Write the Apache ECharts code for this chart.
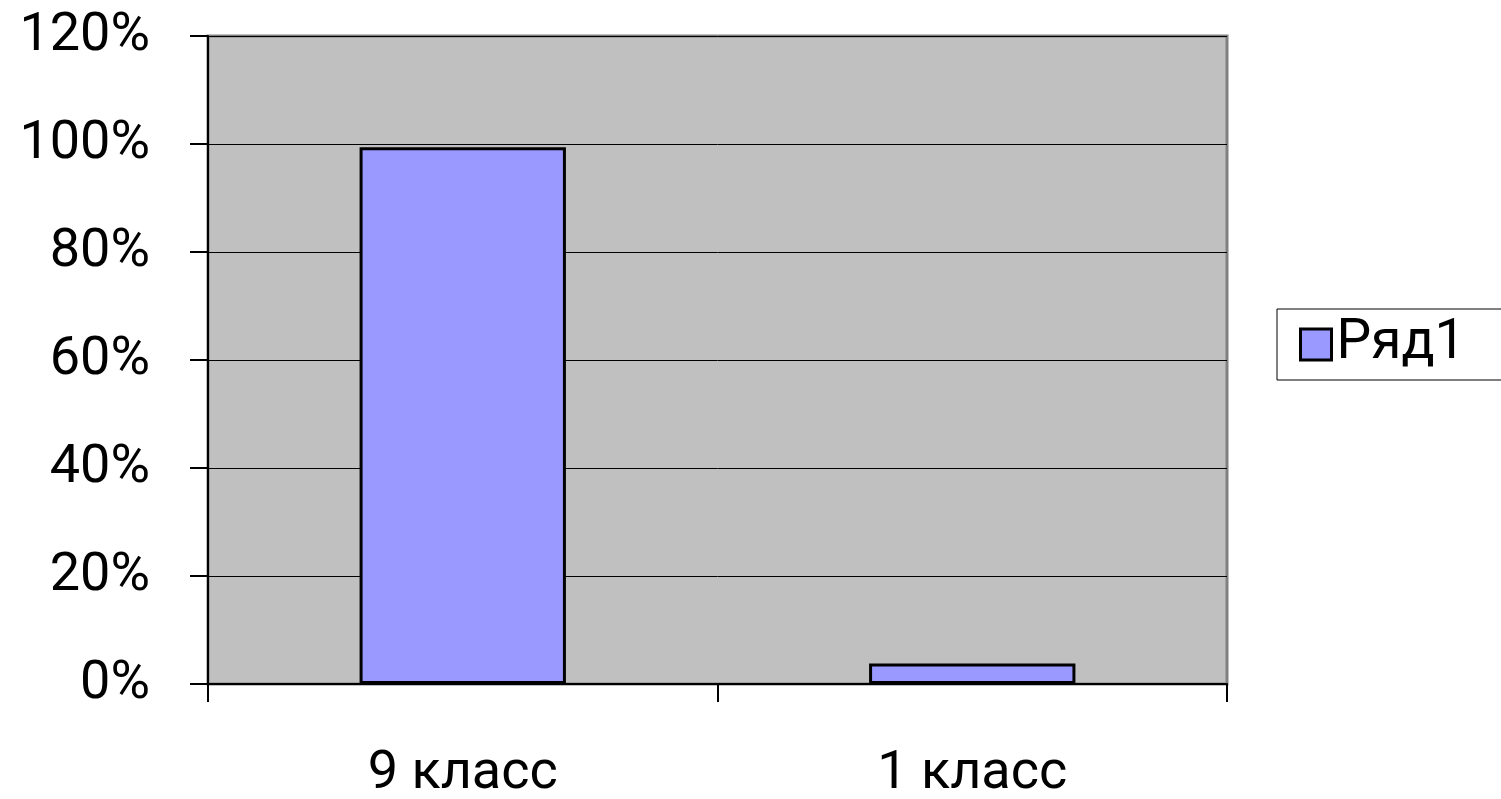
<!DOCTYPE html>
<html>
<head>
<meta charset="utf-8">
<script src="https://cdn.jsdelivr.net/npm/echarts@6/dist/echarts.min.js"></script>
<style>html,body{margin:0;padding:0;background:#fff}#c{width:1501px;height:799px}</style>
</head>
<body>
<div id="c"></div>
<script>
const categories = ['9 класс', '1 класс'];
const seriesName = 'Ряд1';
const values = [99.4, 3.8];
const yTicks = [0, 20, 40, 60, 80, 100, 120];

const FONT = 'Roboto, Arial, sans-serif';
const chart = echarts.init(document.getElementById('c'));
chart.setOption({
  animation: false,
  textStyle: { fontFamily: FONT },
  grid: {
    left: 208, right: 274, top: 36, bottom: 115,
    containLabel: false, outerBoundsMode: 'none',
    show: true, backgroundColor: '#c0c0c0', borderColor: '#808080', borderWidth: 3
  },
  legend: {
    data: [seriesName],
    left: 1277, top: 309,
    orient: 'vertical',
    borderColor: '#000', borderWidth: 1,
    padding: [8, 40, 8, 22],
    itemWidth: 31, itemHeight: 31, itemGap: 10,
    icon: 'rect',
    itemStyle: { color: '#9999ff', borderColor: '#000', borderWidth: 3 },
    textStyle: { fontSize: 55, color: '#000', fontFamily: FONT }
  },
  xAxis: {
    type: 'category',
    data: categories,
    boundaryGap: true,
    axisLine: { lineStyle: { color: '#000', width: 2 } },
    axisTick: { show: true, length: 18, lineStyle: { color: '#000', width: 2 } },
    axisLabel: { fontSize: 54, color: '#000', margin: 63, fontFamily: FONT }
  },
  yAxis: {
    type: 'value',
    min: 0, max: 120, interval: 20,
    axisLine: { show: true, lineStyle: { color: '#000', width: 2 } },
    axisTick: { show: true, length: 18, lineStyle: { color: '#000', width: 2 } },
    splitLine: { show: true, lineStyle: { color: '#000', width: 1 } },
    axisLabel: {
      fontSize: 54, color: '#000', margin: 58, fontFamily: FONT,
      formatter: v => (yTicks.includes(v) ? v + '%' : '')
    }
  },
  series: [{
    name: seriesName,
    type: 'bar',
    data: values,
    barWidth: '40.5%',
    itemStyle: { color: '#9999ff', borderColor: '#000', borderWidth: 3 }
  }]
});
</script>
</body>
</html>
